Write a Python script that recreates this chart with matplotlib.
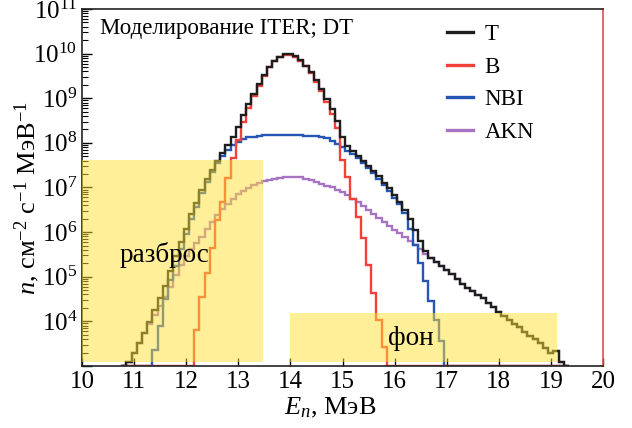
import matplotlib
matplotlib.use("Agg")
import matplotlib.pyplot as plt
import numpy as np
from matplotlib.ticker import LogLocator, NullFormatter, LogFormatterSciNotation

plt.rcParams["font.family"] = ["Liberation Serif", "DejaVu Serif"]
plt.rcParams["mathtext.fontset"] = "custom"
plt.rcParams["mathtext.rm"] = "Liberation Serif"
plt.rcParams["mathtext.it"] = "Liberation Serif:italic"
plt.rcParams["font.size"] = 16

# bin centres, MeV (0.1 MeV bins)
e_mev = np.round(np.arange(10.8, 19.35, 0.1), 1)

# log10 of the spectra, None = empty bin
T_log = [None, 3.08,
         3.29, 3.51, 3.74, 3.98, 4.25, 4.52, 4.80, 5.12, 5.46, 5.78,
         6.08, 6.40, 6.66, 6.95, 7.18, 7.40, 7.60, 7.78, 7.96, 8.14,
         8.36, 8.62, 8.88, 9.10, 9.32, 9.52, 9.70, 9.84, 9.93, 9.98,
         9.98, 9.94, 9.85, 9.73, 9.58, 9.40, 9.20, 8.99, 8.75, 8.50,
         8.12, 7.94, 7.81, 7.71, 7.60, 7.48, 7.37, 7.25, 7.11, 6.98,
         6.84, 6.68, 6.50, 6.30, 6.05, 5.80, 5.58, 5.43, 5.33, 5.24,
         5.15, 5.06, 4.95, 4.84, 4.75, 4.68, 4.60, 4.52, 4.42, 4.32,
         4.22, 4.12, 4.03, 3.95, 3.87, 3.77, 3.68, 3.60, 3.51, 3.40,
         3.29, 3.33, 3.08, None]

B_log = [None, None,
         None, None, None, None, None, None, None, None, None, None,
         None, None, 3.80, 4.54, 5.08, 5.64, 6.27, 6.67, 7.21, 7.66,
         8.07, 8.46, 8.79, 9.04, 9.28, 9.50, 9.69, 9.83, 9.92, 9.97,
         9.97, 9.93, 9.84, 9.72, 9.56, 9.37, 9.16, 8.92, 8.65, 8.33,
         7.61, 7.24, 6.74, 6.33, 5.87, 5.26, 4.63, 4.03, 3.42, None,
         None, None, None, None, None, None, None, None, None, None,
         None, None, None, None, None, None, None, None, None, None,
         None, None, None, None, None, None, None, None, None, None,
         None, None, None, None]

NBI_log = [None, None,
           None, None, None, None, 3.35, 3.90, 4.50, 4.92, 5.25, 5.62,
           5.95, 6.30, 6.57, 6.88, 7.12, 7.34, 7.54, 7.70, 7.84, 7.95,
           8.03, 8.09, 8.12, 8.14, 8.16, 8.17, 8.17, 8.17, 8.17, 8.17,
           8.17, 8.17, 8.17, 8.16, 8.16, 8.15, 8.13, 8.10, 8.05, 7.98,
           7.90, 7.82, 7.74, 7.65, 7.55, 7.43, 7.32, 7.20, 7.06, 6.92,
           6.77, 6.62, 6.42, 6.08, 5.70, 5.30, 4.90, 4.45, 4.02, 3.55,
           None, None, None, None, None, None, None, None, None, None,
           None, None, None, None, None, None, None, None, None, None,
           None, None, None, None]

AKN_log = [None, 3.08,
           3.29, 3.51, 3.74, 3.95, 4.15, 4.35, 4.55, 4.77, 5.03, 5.27,
           5.47, 5.62, 5.76, 5.90, 6.06, 6.22, 6.38, 6.52, 6.64, 6.75,
           6.85, 6.93, 6.99, 7.05, 7.10, 7.14, 7.17, 7.20, 7.22, 7.23,
           7.24, 7.24, 7.23, 7.20, 7.17, 7.12, 7.08, 7.04, 7.00, 6.95,
           6.89, 6.82, 6.75, 6.67, 6.59, 6.50, 6.40, 6.31, 6.22, 6.13,
           6.05, 5.97, 5.88, 5.80, 5.71, 5.62, 5.52, 5.43, 5.33, 5.24,
           5.15, 5.06, 4.95, 4.84, 4.75, 4.68, 4.60, 4.52, 4.42, 4.32,
           4.22, 4.12, 4.03, 3.95, 3.87, 3.77, 3.68, 3.60, 3.51, 3.40,
           3.29, 3.33, 3.08, None]

labels = ["T", "B", "NBI", "AKN"]
colors = ["#1e1e1e", "#f2403a", "#2456b4", "#a774c4"]

YMIN, YMAX = 1e3, 1e11


def to_counts(logs):
    a = np.array([np.nan if v is None else v for v in logs], dtype=float)
    return np.where(np.isnan(a), YMIN, 10.0 ** a)


edges = np.append(e_mev - 0.05, e_mev[-1] + 0.05)

fig = plt.figure(figsize=(6.32, 4.28), dpi=100)
ax = fig.add_axes([0.130, 0.145, 0.824, 0.834])

series = [T_log, B_log, NBI_log, AKN_log]
handles = [None] * 4
for i in [3, 2, 1, 0]:
    ax.stairs(to_counts(series[i]), edges, baseline=YMIN, color=colors[i],
              linewidth=1.7, zorder=2)
    handles[i] = plt.Line2D([], [], color=colors[i], linewidth=2.4)

# shaded regions
ax.fill_between([10.0, 13.47], 1.2e3, 4.2e7, color="#ffe135", alpha=0.5,
                linewidth=0, zorder=3)
ax.fill_between([14.0, 19.12], 1.2e3, 1.5e4, color="#ffe135", alpha=0.5,
                linewidth=0, zorder=3)

ax.text(10.72, 3.0e5, "разброс", fontsize=19.5, va="center", ha="left", zorder=4)
ax.text(15.88, 4.2e3, "фон", fontsize=19.5, va="center", ha="left", zorder=4)
ax.text(0.034, 0.945, "Моделирование ITER; DT", transform=ax.transAxes,
        fontsize=16.5, va="center", ha="left", zorder=4)

ax.legend(handles, labels, loc="upper left", bbox_to_anchor=(0.700, 0.958),
          frameon=False, fontsize=16.5, handlelength=1.15, handletextpad=0.5,
          labelspacing=0.5, borderpad=0, borderaxespad=0)

ax.set_xlim(10, 20)
ax.set_ylim(YMIN, YMAX)
ax.set_yscale("log")
ax.set_xticks(range(10, 21))
ax.yaxis.set_major_locator(LogLocator(base=10, numticks=20))
ax.yaxis.set_minor_locator(LogLocator(base=10, subs=np.arange(2, 10), numticks=20))
ax.yaxis.set_minor_formatter(NullFormatter())
ax.yaxis.set_major_formatter(
    plt.FuncFormatter(lambda v, p: "" if v < 5e3 else LogFormatterSciNotation()(v, p)))

ax.tick_params(axis="both", which="major", direction="in", labelsize=18)
ax.tick_params(axis="x", which="major", length=6, width=1, top=False)
ax.tick_params(axis="y", which="major", length=7, width=1, right=False)
ax.tick_params(axis="y", which="minor", direction="in", length=4, width=0.8, right=False)

for s in ["left", "bottom", "top"]:
    ax.spines[s].set_linewidth(1.2)
    ax.spines[s].set_color("#222222")
ax.spines["right"].set_color("#e05050")
ax.spines["right"].set_linewidth(1.2)

ax.set_xlabel(r"$E_n$, МэВ", fontsize=19)
ax.set_ylabel(r"$n$, см$^{-2}$ с$^{-1}$ МэВ$^{-1}$", fontsize=19)
ax.xaxis.set_label_coords(0.476, -0.085)
ax.yaxis.set_label_coords(-0.078, 0.47)

fig.savefig("out.png", dpi=100)
